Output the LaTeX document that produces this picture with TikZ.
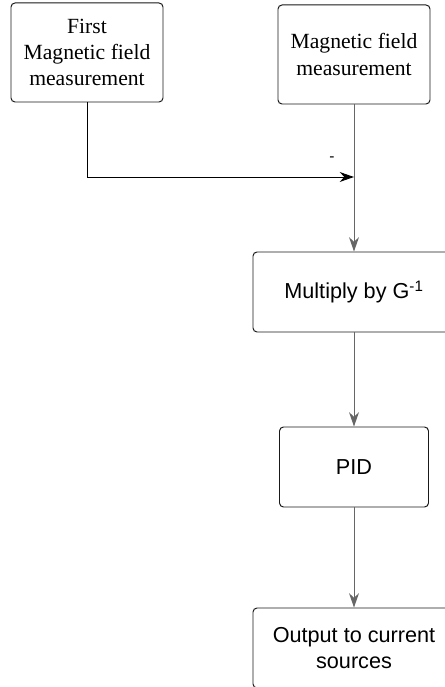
\documentclass[tikz,border=0pt]{standalone}
\usepackage{fontspec}
\setmainfont{Liberation Serif}
\setsansfont{Liberation Sans}
\usepackage{tikz}
\usetikzlibrary{arrows.meta,positioning}
\definecolor{linegray}{rgb}{0.40,0.40,0.40}
\definecolor{boxline}{rgb}{0.10,0.10,0.10}

\begin{document}
\begin{tikzpicture}[
    every node/.style={font=\fontsize{15.4}{18.6}\selectfont},
    blockbox/.style={draw=boxline, line width=0.7pt, rounded corners=0.1cm,
      align=center, inner sep=0pt},
    serifbox/.style={blockbox, minimum width=3.8cm, minimum height=2.475cm},
    sansbox/.style={blockbox, font=\fontsize{15.4}{18.6}\selectfont\sffamily,
      minimum height=2cm},
    flow/.style={draw=linegray, line width=0.7pt,
      -{Stealth[length=3.6mm, width=2.5mm, inset=1.2mm]}}
  ]
  \clip (0,0) rectangle (11.125,17.175);

  % measurements
  \node[serifbox] (first) at (2.175,15.8625) {First\\Magnetic field\\measurement};
  \node[serifbox] (meas) at (8.85,15.8125) {Magnetic field\\measurement};

  % processing chain
  \node[sansbox, minimum width=5.05cm] (mult) at (8.85,9.875) {Multiply by G\textsuperscript{-1}};
  \node[sansbox, minimum width=3.725cm] (pid) at (8.85,5.5) {PID};
  \node[sansbox, minimum width=5.05cm] (out) at (8.85,0.975) {Output to current\\sources};

  % subtraction point
  \coordinate (sum) at (8.85,12.75);
  \node[font=\fontsize{11}{13}\selectfont\sffamily] (minus) at (8.3,13.2) {-};

  \draw[flow, draw=black] (first.south) |- (sum);
  \draw[flow] (meas.south) -- (mult.north);
  \draw[flow] (mult.south) -- (pid.north);
  \draw[flow] (pid.south) -- (out.north);
\end{tikzpicture}
\end{document}
